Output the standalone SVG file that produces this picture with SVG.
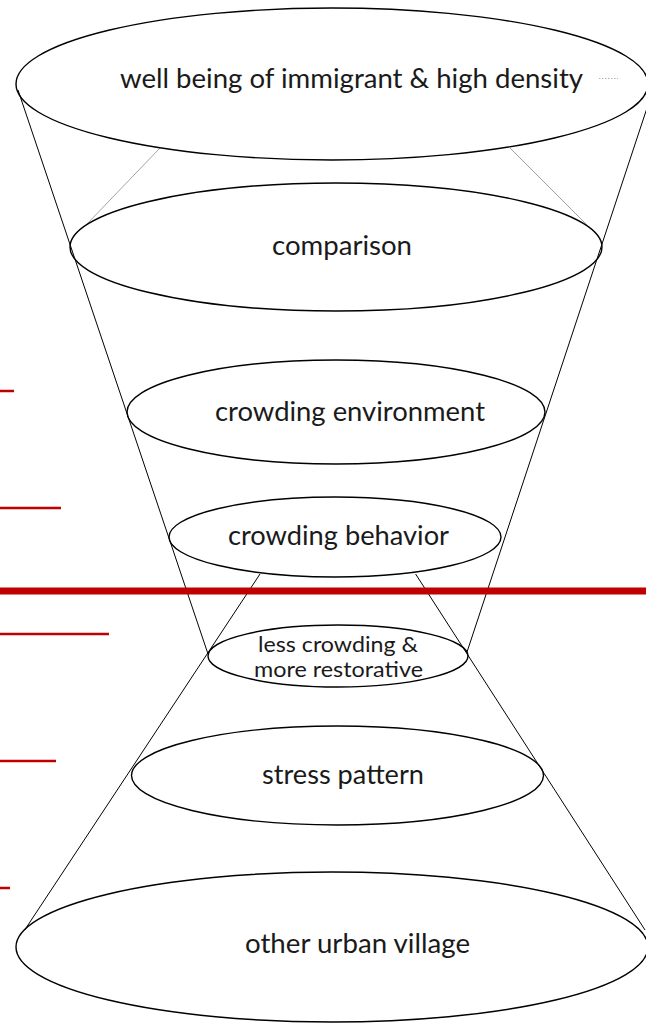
<svg xmlns="http://www.w3.org/2000/svg" width="646" height="1025" viewBox="0 0 646 1025">
<style>
.bg{fill:#ffffff}
.ell{fill:none;stroke:#000;stroke-width:1.4}
.cone{stroke:#000;stroke-width:1;fill:none}
.thin{stroke:#8c8c8c;stroke-width:0.8;fill:none}
.red{stroke:#c00000;stroke-width:2.5}
.redbig{stroke:#c00000;stroke-width:7}
.lbl{font-family:"Lato","Open Sans","Liberation Sans",sans-serif;font-weight:400;font-size:26px;fill:#1a1a1a}
.sm{font-size:21.5px}
</style>
<rect class="bg" x="0" y="0" width="646" height="1025"/>
<g id="connectors">
<line class="cone" x1="18" y1="90" x2="208" y2="654"/>
<line class="cone" x1="647" y1="108" x2="467" y2="652"/>
<line class="cone" x1="260" y1="574" x2="24.7" y2="930"/>
<line class="cone" x1="415.6" y1="574" x2="645" y2="930"/>
<line class="thin" x1="160" y1="148" x2="86" y2="225"/>
<line class="thin" x1="510" y1="148" x2="587" y2="225"/>
<line x1="599" y1="78.5" x2="618" y2="78.5" stroke="#b0b0b0" stroke-width="1" stroke-dasharray="1.5,1.5"/>
</g>
<g id="node-wellbeing">
<ellipse class="ell" cx="332" cy="84" rx="316" ry="76"/>
<text class="lbl" x="120" y="88" textLength="463" lengthAdjust="spacingAndGlyphs">well being of immigrant &amp; high density</text>
</g>
<g id="node-comparison">
<ellipse class="ell" cx="336" cy="247" rx="266" ry="64"/>
<text class="lbl" x="272" y="255" textLength="140" lengthAdjust="spacingAndGlyphs">comparison</text>
</g>
<g id="node-crowding-environment">
<ellipse class="ell" cx="336" cy="412" rx="209" ry="52"/>
<text class="lbl" x="215" y="421" textLength="270" lengthAdjust="spacingAndGlyphs">crowding environment</text>
</g>
<g id="node-crowding-behavior">
<ellipse class="ell" cx="335" cy="537" rx="166" ry="40"/>
<text class="lbl" x="228" y="545" textLength="221" lengthAdjust="spacingAndGlyphs">crowding behavior</text>
</g>
<g id="node-less-crowding">
<ellipse class="ell" cx="338" cy="656" rx="130" ry="31"/>
<text class="lbl sm" x="258" y="652" textLength="160" lengthAdjust="spacingAndGlyphs">less crowding &amp;</text>
<text class="lbl sm" x="254" y="677" textLength="169" lengthAdjust="spacingAndGlyphs">more restorative</text>
</g>
<g id="node-stress-pattern">
<ellipse class="ell" cx="337.5" cy="775.5" rx="206" ry="49.5"/>
<text class="lbl" x="262" y="784" textLength="162" lengthAdjust="spacingAndGlyphs">stress pattern</text>
</g>
<g id="node-other-urban-village">
<ellipse class="ell" cx="332" cy="947" rx="316" ry="75"/>
<text class="lbl" x="245" y="953" textLength="225" lengthAdjust="spacingAndGlyphs">other urban village</text>
</g>
<g id="red-markers">
<line class="redbig" x1="0" y1="591" x2="646" y2="591"/>
<line class="red" x1="0" y1="391" x2="14" y2="391"/>
<line class="red" x1="0" y1="508" x2="61" y2="508"/>
<line class="red" x1="0" y1="634" x2="109" y2="634"/>
<line class="red" x1="0" y1="761" x2="56" y2="761"/>
<line class="red" x1="0" y1="888" x2="10" y2="888"/>
</g>
</svg>
